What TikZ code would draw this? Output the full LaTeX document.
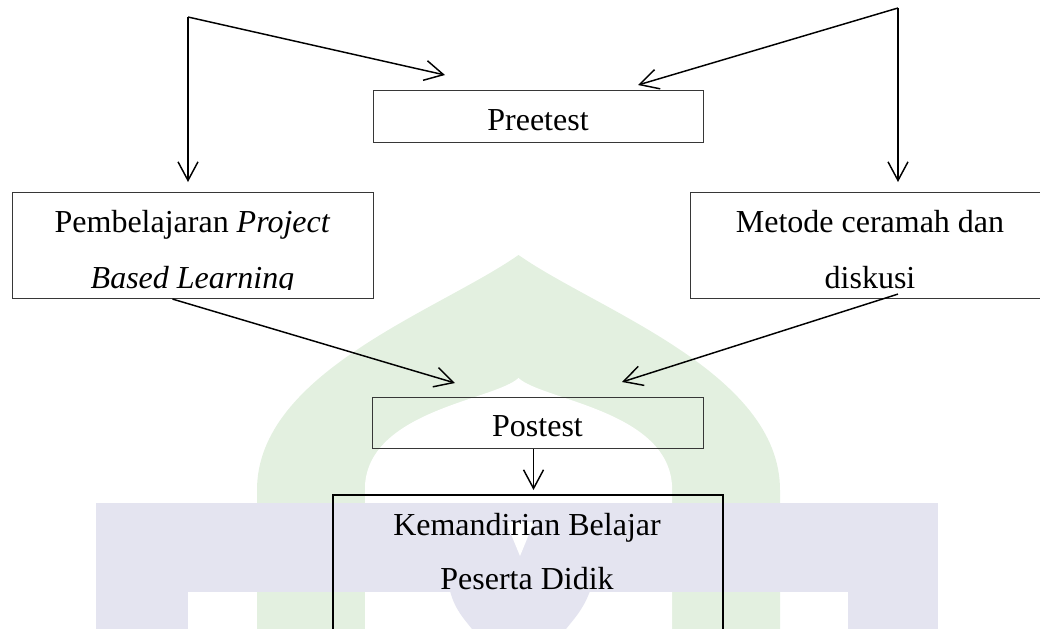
\documentclass[tikz,border=0pt]{standalone}
\usepackage{fontspec}
\setmainfont{Liberation Serif}
\usetikzlibrary{arrows.meta,calc}
\definecolor{domegreen}{RGB}{227,240,224}
\definecolor{bandblue}{RGB}{228,228,240}
\definecolor{boxline}{RGB}{55,55,55}
\newcommand{\pxl}{0.75pt}
\begin{document}
\begin{tikzpicture}[x=0.75pt,y=-0.75pt,
  box/.style={draw=boxline,line width=0.8pt,inner sep=0pt,anchor=north west},
  lbl/.style={anchor=base,inner sep=0pt,font=\fontsize{24}{24}\selectfont},
  flow/.style={draw=black,line width=1.1pt,
    -{Straight Barb[length=14pt,width=15pt,line width=1.1pt]}},
]
\useasboundingbox (0,0) rectangle (1040,629);
\clip (0,0) rectangle (1040,629);

% faint background emblem: dome with two legs and a band across the foot
\fill[domegreen] (257,629) -- (257,490)
  .. controls (257,372) and (440,310) .. (518.5,255)
  .. controls (597,310) and (780,372) .. (780,490) -- (780,629) -- cycle;
\fill[white] (365,629) -- (365,485)
  .. controls (370,410) and (495,400) .. (518.5,378)
  .. controls (542,400) and (667,410) .. (672,485) -- (672,629) -- cycle;
\fill[bandblue] (96,503) rectangle (938,592);
\fill[bandblue] (96,592) rectangle (188,629);
\fill[bandblue] (848,592) rectangle (938,629);
\fill[bandblue] (450,591) .. controls (455,610) and (465,620) .. (472,629)
  -- (566,629) .. controls (573,620) and (583,610) .. (590,591) -- cycle;
\fill[white] (506,522) -- (534,522) -- (520,556) -- cycle;

% boxes
\node[box,minimum width=330*\pxl,minimum height=52*\pxl] (pre) at (373,90) {};
\node[box,minimum width=361*\pxl,minimum height=106*\pxl] (pbl) at (12,192) {};
\node[box,minimum width=360*\pxl,minimum height=106*\pxl] (met) at (690,192) {};
\node[box,minimum width=331*\pxl,minimum height=51*\pxl] (post) at (372,397) {};
\node[box,draw=black,line width=1.4pt,minimum width=390*\pxl,minimum height=200*\pxl] (kem) at (332,494) {};

% labels
\node[lbl] (preT) at (538,130.5) {Preetest};
\node[lbl] (pblA) at (192.5,232) {Pembelajaran \textit{Project}};
\node[lbl] (metA) at (870,232) {Metode ceramah dan};
\begin{scope}
  \clip (12,192) rectangle (1040,289.5);
  \node[lbl] (pblB) at (192.5,288) {\textit{Based Learning}};
  \node[lbl] (metB) at (870,288) {diskusi};
\end{scope}
\node[lbl] (postT) at (537.5,436) {Postest};
\node[lbl] (kemA) at (527,535) {Kemandirian Belajar};
\node[lbl] (kemB) at (527,589) {Peserta Didik};

% connectors
\coordinate (tl) at (188,17);
\coordinate (tr) at (898,8);
\coordinate (preL) at ($(pre.north west)+(72,-15)$);
\coordinate (preR) at ($(pre.north west)+(265,-5)$);
\coordinate (pblDown) at ($(tl |- pbl.north)+(0,-10)$);
\coordinate (metDown) at ($(tr |- met.north)+(0,-10)$);
\coordinate (pblOut) at ($(pbl.south)+(-20.5,0)$);
\coordinate (metOut) at ($(met.south west)+(208,-5)$);
\coordinate (postL) at ($(post.north west)+(83,-14)$);
\coordinate (postR) at ($(post.north west)+(250,-15)$);
\coordinate (postOut) at ($(post.south)+(-4.5,0)$);
\coordinate (kemIn) at ($(postOut |- kem.north)+(0,-4)$);

\draw[flow] (tl) -- (preL);
\draw[flow] (tl) -- (pblDown);
\draw[flow] (tr) -- (preR);
\draw[flow] (tr) -- (metDown);
\draw[flow] (pblOut) -- (postL);
\draw[flow] (metOut) -- (postR);
\draw[flow] (postOut) -- (kemIn);
\end{tikzpicture}
\end{document}
